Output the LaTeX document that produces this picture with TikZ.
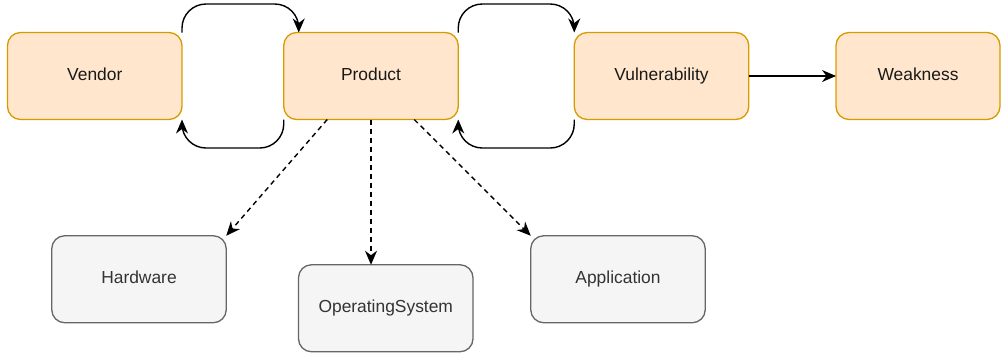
\documentclass[tikz,border=0pt]{standalone}
\usepackage{fontspec}
\setmainfont{Liberation Sans}
\usetikzlibrary{arrows.meta}

\definecolor{orangefill}{HTML}{FFE6CC}
\definecolor{orangeline}{HTML}{D79B00}
\definecolor{grayfill}{HTML}{F5F5F5}
\definecolor{grayline}{HTML}{666666}
\definecolor{graytext}{HTML}{333333}

\tikzset{
  box/.style={line width=1.3pt, rounded corners=13pt,
    minimum width=174.5pt, minimum height=87pt,
    inner sep=0pt, outer sep=0pt, text height=12.6pt, text depth=3.6pt,
    font=\fontsize{17.4pt}{20pt}\selectfont},
  entity/.style={box, draw=orangeline, fill=orangefill, text=black!90},
  kind/.style={box, draw=grayline, fill=grayfill, text=graytext},
  link/.style={line width=1.4pt, black,
    -{Stealth[length=14pt, width=12pt, inset=4.5pt]}},
  loop/.style={link, rounded corners=24pt},
  typeof/.style={link, dash pattern=on 5pt off 4pt}
}

\begin{document}
\begin{tikzpicture}[x=1pt, y=-1pt]
  \useasboundingbox (0,0) rectangle (1001,354);

  % top row: main entities
  \node[entity] (vendor)  at (94.75,76) {Vendor};
  \node[entity] (product) at (371,76)   {Product};
  \node[entity] (vuln)    at (661.5,76) {Vulnerability};
  \node[entity, minimum width=164pt] (weak) at (918,76) {Weakness};

  % bottom row: product kinds
  \node[kind] (hw)  at (139,279.25)    {Hardware};
  \node[kind] (os)  at (385.75,308.25) {OperatingSystem};
  \node[kind] (app) at (618,279.25)    {Application};

  % levels for the looping connectors
  \coordinate (top) at (0,4);
  \coordinate (bot) at (0,148);
  \coordinate (pin) at ([xshift=15pt]product.north west);

  % vendor <-> product
  \draw[loop] (vendor.north east) -- (vendor.north east |- top)
    -- (pin |- top) -- (pin);
  \draw[loop] (product.south west) -- (product.south west |- bot)
    -- (vendor.south east |- bot) -- (vendor.south east);

  % product <-> vulnerability
  \draw[loop] (product.north east) -- (product.north east |- top)
    -- (vuln.north west |- top) -- (vuln.north west);
  \draw[loop] (vuln.south west) -- (vuln.south west |- bot)
    -- (product.south east |- bot) -- (product.south east);

  % vulnerability -> weakness
  \draw[link] (vuln.east) -- (weak.west);

  % product kinds
  \draw[typeof] ([xshift=43.5pt]product.south west) -- (hw.north east);
  \draw[typeof] (product.south) -- (product.south |- os.north);
  \draw[typeof] ([xshift=-44pt]product.south east) -- (app.north west);
\end{tikzpicture}
\end{document}
